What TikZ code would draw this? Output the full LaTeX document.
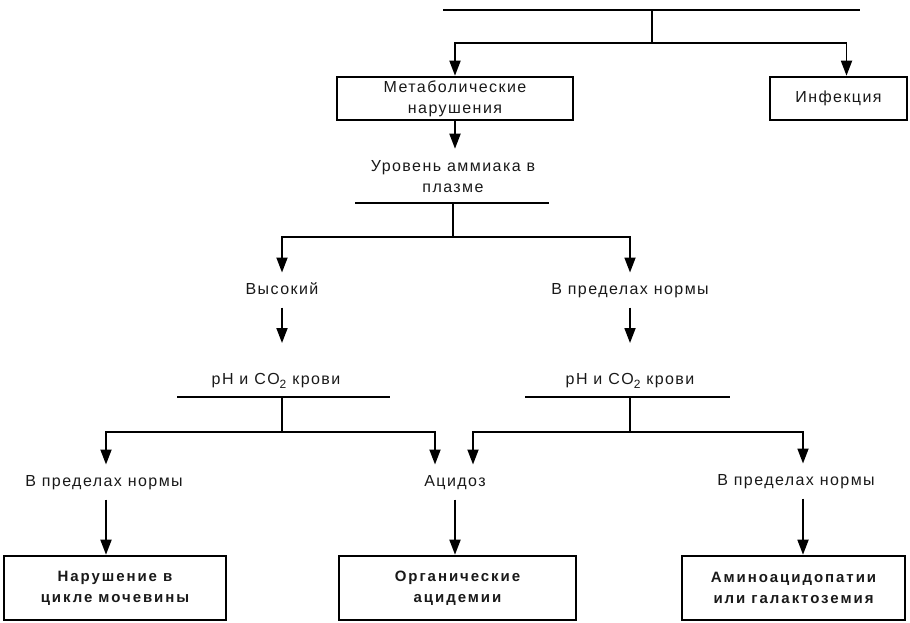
\documentclass[tikz,border=0pt]{standalone}
\usepackage{fontspec}
\setmainfont{Liberation Sans}[LetterSpace=9]
\newfontfamily\boxfont{Liberation Sans}[LetterSpace=13]
\usetikzlibrary{arrows.meta,calc}

\newcommand\lblfont{\fontsize{16}{21}\selectfont}
\newcommand\lowtwo{\raisebox{-4pt}{\fontsize{12}{12}\selectfont 2}}

\tikzset{
  x=1pt, y=-1pt,
  wire/.style={line width=1.8pt, draw=black},
  arr/.style={wire, -{Triangle[width=11pt,length=15pt]}},
  box/.style={draw=black, line width=2.6pt, inner sep=0pt, align=center,
              font=\lblfont, text=black!90},
  bbox/.style={box, font=\boxfont\fontsize{15}{21}\selectfont\bfseries},
  lbl/.style={inner sep=0pt, text height=11pt, text depth=3pt,
              outer ysep=10.5pt, font=\lblfont, text=black!90},
}

\begin{document}
\begin{tikzpicture}
\useasboundingbox (0,0) rectangle (910,622);

% top level
\coordinate (t1) at (443,10);
\coordinate (t2) at (860,10);
\coordinate (tj) at (652,10);
\coordinate (tk) at (652,43);

\node[box, minimum width=236pt, minimum height=43pt] (metab) at (455,98.5)
  {Метаболические\\нарушения};
\node[box, minimum width=137pt, minimum height=43pt] (inf) at (838.5,98.5)
  {Инфекция};

\draw[wire] (t1) -- (t2);
\draw[wire] (tj) -- (tk);
\draw[arr] (tk) -| (metab.north);
\draw[arr] (tk) -| ([xshift=8pt]inf.north);

% ammonia level
\node[inner sep=0pt, align=center, font=\lblfont, text=black!90] (amm) at (453,177)
  {Уровень аммиака в\\плазме};
\draw[arr, shorten >=12pt] (metab.south) -- (metab.south |- amm.north);

\coordinate (a1) at (355,203);
\coordinate (a2) at (549,203);
\coordinate (aj) at (453,203);
\coordinate (ak) at (453,237);
\draw[wire] (a1) -- (a2);
\draw[wire] (aj) -- (ak);

\node[lbl] (high)  at (282,290) {Высокий};
\node[lbl] (normA) at (630,290) {В пределах нормы};
\draw[arr] (ak) -| (high);
\draw[arr] (ak) -| (normA);

% blood pH and CO2
\node[lbl] (ph1) at (276,380) {pH и CO\lowtwo\ крови};
\node[lbl] (ph2) at (630,380) {pH и CO\lowtwo\ крови};
\draw[arr, shorten >=19.5pt] (high) -- (high |- ph1.north);
\draw[arr, shorten >=19.5pt] (normA) -- (normA |- ph2.north);

\coordinate (b1) at (177,397);
\coordinate (b2) at (390,397);
\coordinate (bj) at (282,397);
\coordinate (bk) at (282,432);
\coordinate (c1) at (525,397);
\coordinate (c2) at (730,397);
\coordinate (cj) at (630,397);
\coordinate (ck) at (630,432);
\draw[wire] (b1) -- (b2);
\draw[wire] (bj) -- (bk);
\draw[wire] (c1) -- (c2);
\draw[wire] (cj) -- (ck);

\node[lbl] (normB) at (104,482) {В пределах нормы};
\node[lbl] (acid)  at (455,482) {Ацидоз};
\node[lbl] (normC) at (796,481) {В пределах нормы};

\draw[arr] (bk) -| ([xshift=2pt]normB.north);
\draw[arr] (bk) -| ([xshift=-20pt]acid.north);
\draw[arr] (ck) -| ([xshift=18pt]acid.north);
\draw[arr] (ck) -| ([xshift=7pt]normC.north);

% diagnoses
\node[bbox, minimum width=222pt, minimum height=64pt] (urea) at (115,588)
  {Нарушение в\\цикле мочевины};
\node[bbox, minimum width=237pt, minimum height=64pt] (orga) at (457.5,588)
  {Органические\\ацидемии};
\node[bbox, minimum width=223pt, minimum height=64pt] (amino) at (793.5,588)
  {Аминоацидопатии\\или галактоземия};

\draw[arr] ([xshift=2pt]normB.south) -- ([xshift=2pt]normB.south |- urea.north);
\draw[arr] (acid) -- (acid |- orga.north);
\draw[arr] ([xshift=7pt]normC.south) -- ([xshift=7pt]normC.south |- amino.north);
\end{tikzpicture}
\end{document}
